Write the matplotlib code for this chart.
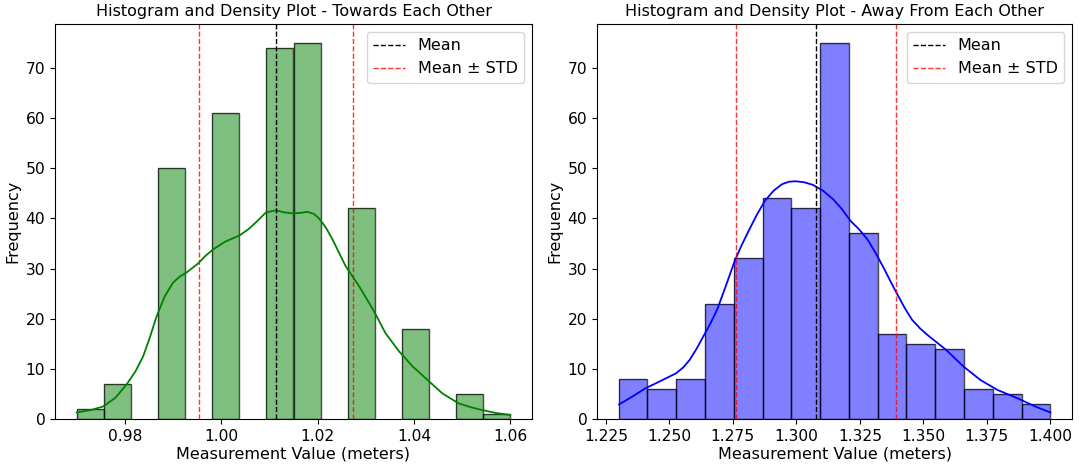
import matplotlib
matplotlib.use("Agg")
import matplotlib.pyplot as plt
import numpy as np

# ---- data ----
left_edges = [0.97, 0.975625, 0.98125, 0.986875, 0.9925, 0.998125, 1.00375, 1.009375,
              1.015, 1.020625, 1.02625, 1.031875, 1.0375, 1.043125, 1.04875, 1.054375, 1.06]
left_counts = [2, 7, 0, 50, 0, 61, 0, 74, 75, 0, 42, 0, 18, 0, 5, 1]
left_mean = 1.0113
left_std = 0.0160
left_kde_x = [0.9700, 0.9730, 0.9755, 0.9780, 0.9803, 0.9822, 0.9838, 0.9852, 0.9866,
              0.9883, 0.9900, 0.9914, 0.9928, 0.9952, 0.9968, 0.9983,
              1.0007, 1.0038, 1.0056, 1.0072, 1.0093, 1.0114, 1.0130, 1.0148, 1.0165,
              1.0179, 1.0192, 1.0203, 1.0217, 1.0231,
              1.0258, 1.0286, 1.0317, 1.0341, 1.0369, 1.0397, 1.0428, 1.0459, 1.0493,
              1.0520, 1.0541, 1.0570, 1.0600]
left_kde_y = [1.3, 1.8, 2.5, 4.2, 6.8, 9.5, 12.5, 16.3, 20.5,
              24.5, 27.2, 28.4, 29.2, 31.0, 32.6, 33.8,
              35.3, 36.6, 37.8, 39.2, 41.2, 41.6, 41.2, 41.0, 41.1,
              41.3, 40.9, 40.0, 38.2, 35.8,
              30.5, 26.5, 21.5, 17.1, 13.5, 10.5, 7.8, 5.1, 3.1,
              2.3, 1.8, 1.2, 0.8]

right_edges = [1.23 + i * (0.17 / 15) for i in range(16)]
right_counts = [8, 6, 8, 23, 32, 44, 42, 75, 37, 17, 15, 14, 6, 5, 3]
right_mean = 1.3079
right_std = 0.0315
right_kde_x = [1.2302, 1.2355, 1.2405, 1.2466, 1.2526, 1.2555, 1.2580, 1.2607, 1.2634,
               1.2661, 1.2688, 1.2722, 1.2755, 1.2782, 1.2809, 1.2843, 1.2876, 1.2910,
               1.2943, 1.2970, 1.2997, 1.3030, 1.3064, 1.3105, 1.3145, 1.3180, 1.3213,
               1.3247, 1.3280, 1.3313, 1.3347, 1.3374, 1.3401, 1.3428, 1.3455, 1.3488,
               1.3522, 1.3589, 1.3657, 1.3724, 1.3791, 1.3872, 1.3940, 1.4000]
right_kde_y = [2.9, 4.5, 6.1, 7.6, 9.1, 10.3, 11.8, 14.0, 16.5,
               19.0, 21.8, 26.5, 31.2, 34.4, 37.2, 40.6, 43.5, 45.5,
               46.8, 47.3, 47.4, 47.2, 46.7, 45.5, 43.8, 41.8, 39.5,
               37.8, 35.8, 33.0, 29.8, 27.1, 24.5, 22.0, 19.8, 18.0,
               16.5, 13.8, 10.5, 7.8, 5.8, 4.1, 2.5, 1.3]

titles = ["Histogram and Density Plot - Towards Each Other",
          "Histogram and Density Plot - Away From Each Other"]
xlabel = "Measurement Value (meters)"
ylabel = "Frequency"
left_xticks = [0.98, 1.00, 1.02, 1.04, 1.06]
right_xticks = [1.225, 1.250, 1.275, 1.300, 1.325, 1.350, 1.375, 1.400]

FS = 11.5
TFS = 11.2
W, H = 1079, 465
fig = plt.figure(figsize=(W / 100, H / 100), dpi=100)
ax1 = fig.add_axes([55 / W, 46 / H, 477 / W, 395 / H])
ax2 = fig.add_axes([597 / W, 46 / H, 475 / W, 395 / H])

def draw(ax, edges, counts, color, kx, ky, kcolor, mean, std, title, xticks, xfmt):
    edges = np.asarray(edges)
    widths = np.diff(edges)
    for e, w, c in zip(edges[:-1], widths, counts):
        if c > 0:
            ax.bar(e, c, width=w, align='edge', color=color, alpha=0.5,
                   edgecolor='none')
            ax.bar(e, c, width=w, align='edge', fill=False,
                   edgecolor=(0, 0, 0, 0.7), linewidth=1.0)
    ax.plot(kx, ky, color=kcolor, linewidth=1.3)
    ax.axvline(mean, color='black', linestyle='--', linewidth=1, label='Mean')
    ax.axvline(mean - std, color='red', linestyle='--', linewidth=1, alpha=0.8,
               label='Mean ± STD')
    ax.axvline(mean + std, color='red', linestyle='--', linewidth=1, alpha=0.8)
    lo, hi = edges[0], edges[-1]
    pad = (hi - lo) * 0.05
    ax.set_xlim(lo - pad, hi + pad)
    ax.set_ylim(0, max(counts) * 1.05)
    ax.set_xticks(xticks)
    ax.set_xticklabels([xfmt.format(t) for t in xticks])
    ax.tick_params(labelsize=TFS)
    ax.set_title(title, fontsize=FS)
    ax.set_xlabel(xlabel, fontsize=FS, labelpad=2)
    ax.set_ylabel(ylabel, fontsize=FS)
    ax.legend(loc='upper right', fontsize=FS)

draw(ax1, left_edges, left_counts, 'green', left_kde_x, left_kde_y, 'green',
     left_mean, left_std, titles[0], left_xticks, "{:.2f}")
draw(ax2, right_edges, right_counts, 'blue', right_kde_x, right_kde_y, 'blue',
     right_mean, right_std, titles[1], right_xticks, "{:.3f}")

fig.savefig("out.png", dpi=100)
